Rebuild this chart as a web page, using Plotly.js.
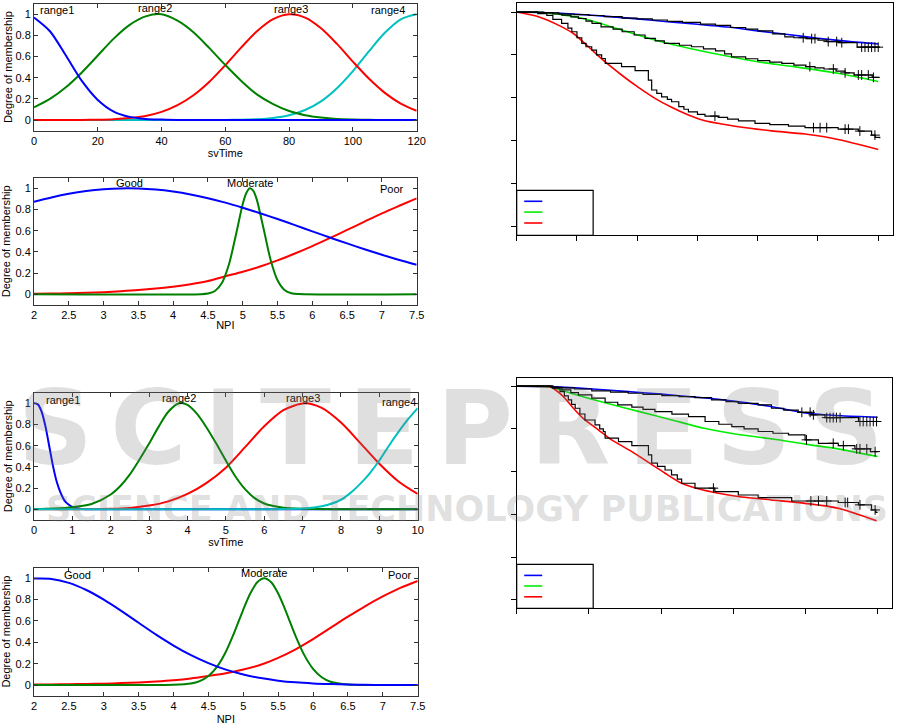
<!DOCTYPE html>
<html>
<head>
<meta charset="utf-8">
<script src="https://cdn.plot.ly/plotly-3.0.1.min.js"></script>
<style>html,body{margin:0;padding:0;background:#fff;}#chart{width:915px;height:725px;}</style>
</head>
<body>
<div id="chart"></div>
<script>
// ---------- Panel 1: svTime (months) membership ----------
const p1X = [0,5,10,15,20,25,30,35,40,45,50,55,60,65,70,75,80,85,90,95,100,105,110,115,120];
const p1Range1 = [0.97,0.84,0.61,0.37,0.19,0.08,0.03,0.01,0.004,0,0,0,0,0,0,0,0,0,0,0,0,0,0,0,0];
const p1Range2 = [0.12,0.20,0.31,0.45,0.61,0.77,0.90,0.98,1.0,0.94,0.83,0.68,0.52,0.37,0.24,0.15,0.085,0.046,0.023,0.01,0.005,0.002,0,0,0];
const p1Range3 = [0,0,0,0.001,0.003,0.008,0.019,0.039,0.077,0.14,0.234,0.362,0.519,0.687,0.842,0.954,1.0,0.969,0.868,0.72,0.552,0.392,0.257,0.156,0.087];
const p1Range4 = [0,0,0,0,0,0,0,0,0,0,0,0,0.001,0.003,0.008,0.02,0.046,0.095,0.177,0.301,0.463,0.649,0.825,0.953,1.0];
const p1Labels = ['range1','range2','range3','range4'];
const p1LabelX = [7.2,38,80.6,111];
const p1LabelY = [1.045,1.06,1.05,1.045];

// ---------- Panel 2: NPI membership ----------
const p2X = [2,2.25,2.5,2.75,3,3.25,3.5,3.75,4,4.25,4.5,4.75,5,5.25,5.5,5.75,6,6.25,6.5,6.75,7,7.25,7.5];
const p2Good = [0.874,0.914,0.948,0.974,0.991,0.999,0.998,0.988,0.969,0.942,0.907,0.865,0.817,0.765,0.71,0.653,0.594,0.536,0.48,0.425,0.373,0.324,0.279];
const p2Poor = [0.005,0.007,0.01,0.014,0.02,0.029,0.04,0.055,0.072,0.095,0.125,0.17,0.213,0.262,0.32,0.385,0.455,0.53,0.607,0.685,0.763,0.835,0.905];
const p2ModX = [2,4.4,4.5,4.6,4.7,4.8,4.9,5.0,5.05,5.1,5.15,5.2,5.3,5.4,5.5,5.6,5.7,5.8,7.5];
const p2Moderate = [0,0.001,0.007,0.031,0.106,0.278,0.555,0.851,0.953,1.0,0.979,0.898,0.618,0.326,0.132,0.041,0.01,0.002,0];
const p2Labels = ['Good','Moderate','Poor'];
const p2LabelX = [3.37,5.1,7.14];
const p2LabelY = [1.05,1.05,0.99];

// ---------- Panel 3: svTime (years) membership ----------
const p3R1X = [0,0.1,0.2,0.3,0.4,0.5,0.6,0.7,0.8,0.9,1.0,1.2,1.5,2,3,4,5,6,7,8,9,10];
const p3Range1 = [1.0,0.99,0.92,0.78,0.59,0.40,0.25,0.15,0.08,0.045,0.022,0.005,0,0,0,0,0,0,0,0,0,0];
const p3R2X = [0,0.5,1,1.5,2,2.25,2.5,2.75,3,3.25,3.5,3.78,4,4.25,4.5,4.75,5,5.25,5.5,5.75,6,6.5,7,8,9,10];
const p3Range2 = [0.003,0.008,0.02,0.05,0.14,0.22,0.33,0.47,0.62,0.78,0.92,1.0,0.985,0.9,0.77,0.62,0.46,0.31,0.19,0.105,0.055,0.015,0.004,0,0,0];
const p3R3X = [0,1,2,2.5,3,3.5,4,4.5,5,5.5,6,6.5,7.05,7.5,8,8.5,9,9.5,10];
const p3Range3 = [0,0.001,0.005,0.013,0.035,0.075,0.145,0.25,0.393,0.586,0.783,0.935,1.0,0.956,0.818,0.627,0.43,0.263,0.145];
const p3R4X = [0,5,6,6.5,7,7.5,8,8.25,8.5,8.75,9,9.25,9.5,9.75,10];
const p3Range4 = [0,0,0,0.002,0.007,0.028,0.09,0.155,0.24,0.34,0.46,0.6,0.73,0.85,0.955];
const p3LabelX = [0.75,3.78,7.0,9.5];
const p3LabelY = [1.03,1.05,1.05,1.01];

// ---------- Panel 4: NPI membership ----------
const p4X = [2,2.25,2.5,2.75,3,3.25,3.5,3.75,4,4.25,4.5,4.75,5,5.25,5.5,5.75,6,6.25,6.5,6.75,7,7.25,7.5];
const p4Good = [0.997,0.994,0.957,0.89,0.8,0.695,0.583,0.472,0.37,0.28,0.205,0.144,0.099,0.065,0.041,0.025,0.015,0.009,0.005,0.002,0.001,0,0];
const p4Poor = [0.004,0.006,0.008,0.01,0.013,0.018,0.024,0.033,0.045,0.062,0.085,0.11,0.145,0.19,0.255,0.335,0.43,0.535,0.64,0.74,0.83,0.91,0.975];
const p4ModX = [2,3.5,4,4.25,4.375,4.5,4.625,4.75,4.875,5,5.1,5.2,5.3,5.4,5.5,5.6,5.75,5.875,6,6.125,6.25,6.5,7,7.5];
const p4Moderate = [0,0,0.002,0.014,0.037,0.085,0.173,0.312,0.499,0.707,0.857,0.962,1.0,0.962,0.857,0.707,0.459,0.28,0.152,0.073,0.031,0.004,0,0];
const p4LabelX = [2.62,5.3,7.25];
const p4LabelY = [1.035,1.05,1.035];

// ---------- Right panel 1: survival (months) ----------
const r1BlueFitX = [0,10,20,30,40,50,60,70,80,90,100,110,120];
const r1BlueFit = [1.0,0.997,0.99,0.98,0.968,0.955,0.943,0.93,0.912,0.895,0.878,0.863,0.851];
const r1GreenFitX = [0,9,18,24,33,44,55,68,80,92,107,120];
const r1GreenFit = [1.0,0.997,0.981,0.963,0.924,0.877,0.838,0.799,0.768,0.745,0.713,0.676];
const r1RedFitX = [0,7.2,13.8,18.8,23.8,29.3,34.8,40.4,45.9,51.4,57,62.5,68,73.6,84.6,95.7,106.7,120];
const r1RedFit = [1.0,0.978,0.939,0.9,0.838,0.768,0.706,0.648,0.597,0.555,0.519,0.492,0.477,0.464,0.445,0.43,0.405,0.358];
const r1KmTopX = [0,9,14,19,24,29,35,40,45,50,55,61,66,71,76,80,85,89,92,96,100,103,107,113,120.5];
const r1KmTop = [1,0.996,0.991,0.988,0.984,0.979,0.972,0.968,0.963,0.957,0.952,0.944,0.938,0.928,0.92,0.912,0.898,0.884,0.88,0.876,0.869,0.862,0.857,0.836,0.836];
const r1KmMidX = [0,7,12,15,18,20.5,23,25,28,32,35,39,42.6,46,49,54,58,62,66,69,71.3,76,80,84,88,92,96,99,102,106,109,112,118,120.5];
const r1KmMid = [1,0.997,0.991,0.986,0.978,0.97,0.958,0.947,0.931,0.92,0.908,0.893,0.877,0.865,0.854,0.845,0.838,0.828,0.819,0.805,0.791,0.782,0.773,0.766,0.76,0.752,0.745,0.739,0.734,0.724,0.716,0.706,0.695,0.695];
const r1KmLowX = [0,7,10,12,14.9,17,18.3,20,21.6,23,24.9,26.5,28.2,29.4,34.8,39.3,43.7,44.8,46.5,48.1,50,51.4,53.8,55.5,57,60,62.5,66.9,70,73.6,79.1,84,90.2,95.7,106.7,113.4,117.8,119,120.5];
const r1KmLow = [1,0.993,0.985,0.966,0.947,0.925,0.908,0.88,0.854,0.838,0.822,0.8,0.783,0.76,0.745,0.726,0.682,0.636,0.62,0.604,0.592,0.581,0.558,0.546,0.534,0.522,0.514,0.508,0.5,0.492,0.48,0.474,0.467,0.46,0.453,0.444,0.425,0.415,0.41];
const r1CensX = [95.1,97.9,99,103.4,106.2,107.9,114.5,115.6,116.7,117.8,118.9,120, 97.3,105.1,109,113.4,114.5,116.7,118.4, 65.8,98.5,100.7,102.9,109,110.1,113.9,118.9];
const r1CensY = [0.88,0.876,0.876,0.862,0.862,0.857,0.836,0.836,0.836,0.836,0.836,0.836, 0.745,0.734,0.716,0.706,0.706,0.706,0.695, 0.514,0.46,0.46,0.46,0.453,0.453,0.444,0.425];

// ---------- Right panel 2: survival (years) ----------
const r2BlueFitX = [0,0.9,2,3,4,5,6,7,8,9,10];
const r2BlueFit = [1.0,0.998,0.988,0.976,0.963,0.948,0.93,0.906,0.875,0.862,0.855];
const r2GreenFitX = [0,0.9,1.5,2.5,3.4,4.3,5.2,6.1,7.1,8,8.9,10];
const r2GreenFit = [1.0,0.997,0.967,0.92,0.881,0.842,0.803,0.775,0.753,0.729,0.707,0.671];
const r2RedFitX = [0,0.9,0.97,1.29,1.57,1.89,2.26,2.63,3.19,3.65,4.11,4.57,5.03,5.59,6.14,7.06,7.99,8.91,9.97];
const r2RedFit = [1.0,0.998,0.994,0.952,0.897,0.842,0.796,0.749,0.694,0.644,0.593,0.546,0.52,0.499,0.484,0.468,0.452,0.429,0.37];
const r2KmTopX = [0,1,1.15,1.6,2.08,2.6,3.09,3.5,4.02,4.5,4.94,5.4,5.8,6.14,6.69,7.06,7.4,7.8,8.17,8.54,9.47,10];
const r2KmTop = [1,0.996,0.992,0.987,0.978,0.972,0.967,0.962,0.956,0.951,0.947,0.936,0.928,0.92,0.913,0.897,0.888,0.878,0.866,0.853,0.835,0.835];
const r2KmMidX = [0,0.95,1.25,1.5,1.71,2.08,2.45,2.8,3.19,3.5,3.83,4.3,4.76,5.22,5.6,5.96,6.3,6.69,7.1,7.53,7.99,8.36,8.91,9.37,9.8,10];
const r2KmMid = [1,0.995,0.983,0.97,0.959,0.944,0.925,0.913,0.902,0.892,0.881,0.869,0.858,0.835,0.822,0.811,0.8,0.788,0.78,0.772,0.749,0.733,0.722,0.707,0.694,0.694];
const r2KmLowX = [0,1,1.2,1.32,1.43,1.52,1.62,1.75,1.89,2.17,2.3,2.4,2.45,2.82,3.19,3.65,3.74,3.9,4.11,4.29,4.45,4.57,4.94,5.49,6.14,6.69,7.62,8.91,9.47,9.83,9.95,10];
const r2KmLow = [1,0.99,0.975,0.955,0.936,0.915,0.897,0.87,0.842,0.819,0.8,0.788,0.757,0.741,0.722,0.679,0.64,0.625,0.608,0.585,0.565,0.546,0.523,0.507,0.491,0.479,0.463,0.456,0.445,0.421,0.41,0.41];
const r2CensX = [7.9,8.13,8.22,8.59,8.68,8.77,8.86,8.96,9.51,9.6,9.7,9.79,9.88,9.97, 8.03,8.77,9.05,9.42,9.51,9.7,9.93, 5.45,8.15,8.36,8.59,9.1,9.17,9.51,9.93];
const r2CensY = [0.878,0.878,0.866,0.853,0.853,0.853,0.853,0.853,0.835,0.835,0.835,0.835,0.835,0.835, 0.749,0.733,0.722,0.707,0.707,0.707,0.694, 0.523,0.463,0.463,0.463,0.456,0.456,0.445,0.421];

// ---------- watermark text ----------
const wmTop = 'SCITEPRESS';
const wmBottom = 'SCIENCE AND TECHNOLOGY PUBLICATIONS';

// ---------- styling ----------
const FONT = {family: 'Liberation Sans, Arial, sans-serif', size: 11, color: '#000'};
const BLUE = '#0000ff', GREEN = '#008000', RED = '#ff0000', CYAN = '#00c0c0';
const LGREEN = '#00ee00';

function mem(x, y, color, ax) {
  return {x: x, y: y, type: 'scatter', mode: 'lines', xaxis: 'x' + ax, yaxis: 'y' + ax,
    line: {color: color, width: 2, shape: 'spline', smoothing: 0.8}, hoverinfo: 'skip', showlegend: false};
}
function fit(x, y, color, ax) {
  return {x: x, y: y, type: 'scatter', mode: 'lines', xaxis: 'x' + ax, yaxis: 'y' + ax,
    line: {color: color, width: 1.6, shape: 'spline', smoothing: 0.7}, hoverinfo: 'skip', showlegend: false};
}
function km(x, y, ax) {
  return {x: x, y: y, type: 'scatter', mode: 'lines', xaxis: 'x' + ax, yaxis: 'y' + ax,
    line: {color: '#000', width: 1.2, shape: 'hv'}, hoverinfo: 'skip', showlegend: false};
}
function cens(x, y, ax) {
  return {x: x, y: y, type: 'scatter', mode: 'markers', xaxis: 'x' + ax, yaxis: 'y' + ax,
    marker: {symbol: 'cross-thin-open', size: 7, color: '#000', line: {color: '#000', width: 1}}, hoverinfo: 'skip', showlegend: false};
}

const traces = [
  mem(p1X, p1Range4, CYAN, ''), mem(p1X, p1Range3, RED, ''), mem(p1X, p1Range2, GREEN, ''), mem(p1X, p1Range1, BLUE, ''),
  mem(p2X, p2Poor, RED, '2'), mem(p2ModX, p2Moderate, GREEN, '2'), mem(p2X, p2Good, BLUE, '2'),
  mem(p3R1X, p3Range1, BLUE, '3'), mem(p3R3X, p3Range3, RED, '3'), mem(p3R2X, p3Range2, GREEN, '3'), mem(p3R4X, p3Range4, CYAN, '3'),
  mem(p4X, p4Poor, RED, '4'), mem(p4ModX, p4Moderate, GREEN, '4'), mem(p4X, p4Good, BLUE, '4'),
  fit(r1BlueFitX, r1BlueFit, BLUE, '5'), fit(r1GreenFitX, r1GreenFit, LGREEN, '5'), fit(r1RedFitX, r1RedFit, RED, '5'),
  km(r1KmTopX, r1KmTop, '5'), km(r1KmMidX, r1KmMid, '5'), km(r1KmLowX, r1KmLow, '5'), cens(r1CensX, r1CensY, '5'),
  fit(r2BlueFitX, r2BlueFit, BLUE, '6'), fit(r2GreenFitX, r2GreenFit, LGREEN, '6'), fit(r2RedFitX, r2RedFit, RED, '6'),
  km(r2KmTopX, r2KmTop, '6'), km(r2KmMidX, r2KmMid, '6'), km(r2KmLowX, r2KmLow, '6'), cens(r2CensX, r2CensY, '6')
];

function memX(domain, range, dtick, title, anchor, standoff) {
  return {domain: domain, range: range, dtick: dtick, tick0: 0, anchor: anchor, ticks: 'inside', ticklen: 4,
    showline: true, mirror: 'ticks', linecolor: '#333', tickcolor: '#333', linewidth: 1, zeroline: false, showgrid: false,
    tickfont: FONT, title: {text: title, font: FONT, standoff: standoff}, fixedrange: true};
}
function memY(domain, anchor, standoff) {
  return {domain: domain, range: [-0.1, 1.1], dtick: 0.2, tick0: 0, anchor: anchor, ticks: 'inside', ticklen: 4,
    showline: true, mirror: 'ticks', linecolor: '#333', tickcolor: '#333', linewidth: 1, zeroline: false, showgrid: false,
    tickfont: FONT, title: {text: 'Degree of membership', font: FONT, standoff: standoff}, fixedrange: true};
}
function survX(domain, range, dtick, anchor) {
  return {domain: domain, range: range, dtick: dtick, tick0: 0, anchor: anchor, ticks: 'outside', ticklen: 5,
    showticklabels: false, showline: true, mirror: true, linecolor: '#000', tickcolor: '#000', linewidth: 1.2,
    zeroline: false, showgrid: false, fixedrange: true};
}
function survY(domain, range, anchor) {
  return {domain: domain, range: range, dtick: 0.2, tick0: 0, anchor: anchor, ticks: 'outside', ticklen: 5,
    showticklabels: false, showline: true, mirror: true, linecolor: '#000', tickcolor: '#000', linewidth: 1.2,
    zeroline: false, showgrid: false, fixedrange: true};
}

const annotations = [];
function addLabels(texts, xs, ys, ax) {
  texts.forEach((t, i) => annotations.push({text: t, x: xs[i], y: ys[i], xref: 'x' + ax, yref: 'y' + ax,
    showarrow: false, font: FONT, xanchor: 'center', yanchor: 'middle'}));
}
addLabels(p1Labels, p1LabelX, p1LabelY, '');
addLabels(p2Labels, p2LabelX, p2LabelY, '2');
addLabels(p1Labels, p3LabelX, p3LabelY, '3');
addLabels(p2Labels, p4LabelX, p4LabelY, '4');

// watermark (letter-spaced with six-per-em spaces)
annotations.push({text: '<b>' + wmTop.split('').join('\u2006') + '</b>', xref: 'paper', yref: 'paper', x: 450/915, y: 1 - 428/725,
  showarrow: false, font: {family: 'DejaVu Sans, sans-serif', size: 104, color: 'rgba(120,120,120,0.24)'}, xanchor: 'center', yanchor: 'middle'});
annotations.push({text: '<b>' + wmBottom + '</b>', xref: 'paper', yref: 'paper', x: 467/915, y: 1 - 509/725,
  showarrow: false, font: {family: 'DejaVu Sans, sans-serif', size: 35, color: 'rgba(120,120,120,0.24)'}, xanchor: 'center', yanchor: 'middle'});

function legendShapes(ax, w, h, ys) {
  const xr = 'x' + ax + ' domain', yr = 'y' + ax + ' domain';
  const s = [{type: 'rect', xref: xr, yref: yr, x0: 0, x1: w, y0: 0, y1: h, line: {color: '#000', width: 1.2}, fillcolor: 'rgba(0,0,0,0)'}];
  [BLUE, LGREEN, RED].forEach((c, i) => s.push({type: 'line', xref: xr, yref: yr, x0: 0.02, x1: 0.068, y0: ys[i], y1: ys[i], line: {color: c, width: 1.6}}));
  return s;
}

const layout = {
  width: 915, height: 725, margin: {l: 0, r: 0, t: 0, b: 0}, paper_bgcolor: '#fff', plot_bgcolor: '#fff',
  font: FONT, showlegend: false,
  xaxis: memX([0.03716, 0.4554], [0, 120], 20, 'svTime', 'y', 0),
  yaxis: memY([0.81986, 0.99486], 'x', 0),
  xaxis2: memX([0.03716, 0.4554], [2, 7.5], 0.5, 'NPI', 'y2', 1),
  yaxis2: memY([0.57945, 0.75490], 'x2', 2),
  xaxis3: memX([0.03716, 0.4565], [0, 10], 1, 'svTime', 'y3', 0),
  yaxis3: memY([0.28290, 0.45834], 'x3', 0),
  xaxis4: memX([0.03716, 0.4565], [2, 7.5], 0.5, 'NPI', 'y4', 9),
  yaxis4: memY([0.04041, 0.21710], 'x4', 2),
  xaxis5: survX([0.5647, 0.97628], [0, 125], 20, 'y5'),
  yaxis5: survY([0.67545, 0.99545], [-0.043, 1.041], 'x5'),
  xaxis6: survX([0.5647, 0.97454], [0, 10.39], 2, 'y6'),
  yaxis6: survY([0.16097, 0.47821], [-0.039, 1.037], 'x6'),
  annotations: annotations,
  shapes: legendShapes('5', 0.203, 0.194, [0.1466, 0.100, 0.053]).concat(legendShapes('6', 0.204, 0.191, [0.143, 0.097, 0.050]))
};

Plotly.newPlot('chart', traces, layout, {staticPlot: true, displayModeBar: false});
</script>
</body>
</html>
